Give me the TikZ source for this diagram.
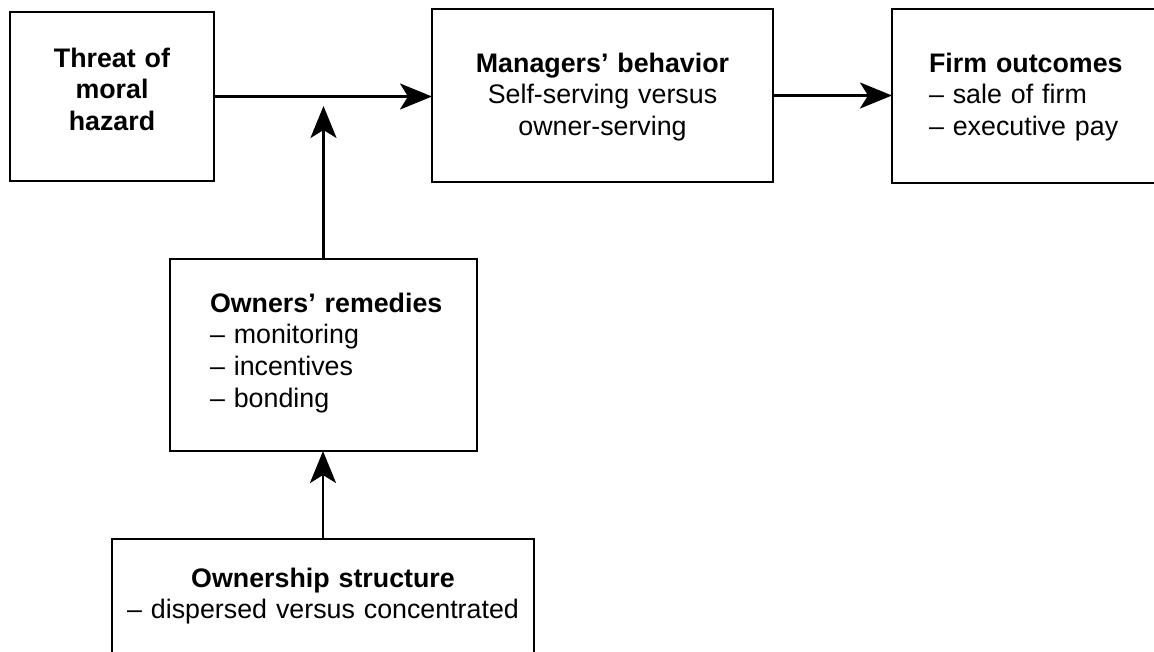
\documentclass[tikz,border=0pt]{standalone}
\usepackage{fontspec}
\setmainfont{Liberation Sans}
\usetikzlibrary{arrows.meta}
\begin{document}
\begin{tikzpicture}[x=1pt,y=-1pt,
  box/.style={draw, line width=2.9pt, inner ysep=0pt, outer sep=0pt,
    anchor=north west, font=\fontsize{26.8}{31.7}\selectfont},
  arr/.style={line width=2.9pt, -{Stealth[length=32pt,width=26pt,inset=8pt]}}]
\useasboundingbox (0,0) rectangle (1154,651);
\clip (0,0) rectangle (1154,651);

% top row
\node[box, inner xsep=0pt, text width=204pt, align=center,
      text height=55pt, text depth=114pt] (threat) at (10,12)
  {\textbf{Threat of}\\\textbf{moral}\\\textbf{hazard}};
\node[box, inner xsep=0pt, text width=341pt, align=center,
      text height=63pt, text depth=110pt] (managers) at (432,9)
  {\textbf{Managers’ behavior}\\Self-serving versus\\owner-serving};
\node[box, inner xsep=37pt, text width=300pt, align=left,
      text height=63pt, text depth=111pt] (firm) at (892,9)
  {\textbf{Firm outcomes}\\– sale of firm\\– executive pay};

% lower column
\node[box, inner xsep=40pt, text width=227pt, align=left,
      text height=53pt, text depth=139pt] (remedies) at (170,259)
  {\mbox{\textbf{Owners’ remedies}}\\– monitoring\\– incentives\\– bonding};
\node[box, inner xsep=0pt, text width=422pt, align=center,
      text height=48pt, text depth=200pt] (ownership) at (112,539)
  {\textbf{Ownership structure}\\– dispersed versus concentrated};

% connectors
\coordinate (jn) at (323.5,106);
\draw[arr] (threat.east) -- (threat.east -| managers.west);
\draw[arr] (managers.east) -- (managers.east -| firm.west);
\draw[arr] (remedies.north) -- (jn);
\draw[arr] (ownership.north) -- (ownership.north |- remedies.south);
\end{tikzpicture}
\end{document}
